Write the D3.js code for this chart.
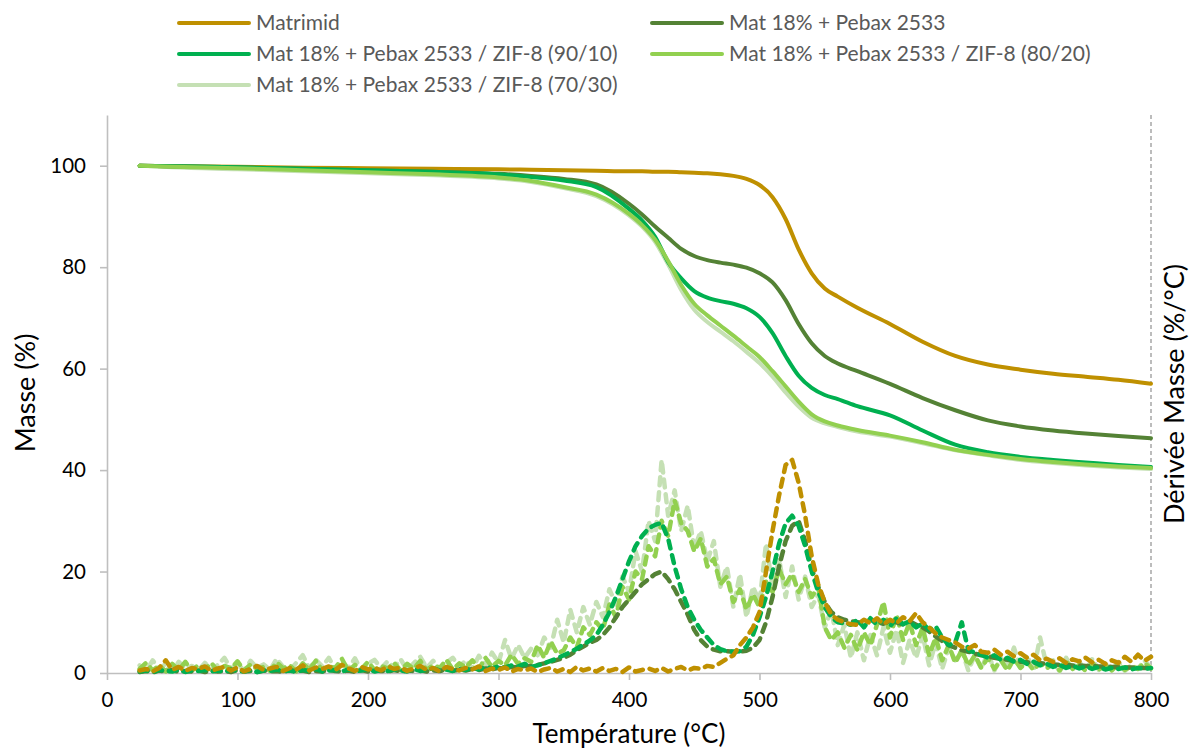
<!DOCTYPE html>
<html><head><meta charset="utf-8">
<script src="https://cdn.jsdelivr.net/npm/d3@7"></script>
<style>
html,body{margin:0;padding:0;background:#fff;}
svg{display:block;font-family:Lato,"Open Sans",sans-serif;}
</style></head>
<body><svg id="c" width="1189" height="753"></svg>
<script>
// ---------- DATA ----------
const seriesNames = [
  "Matrimid",
  "Mat 18% + Pebax 2533",
  "Mat 18% + Pebax 2533 / ZIF-8 (90/10)",
  "Mat 18% + Pebax 2533 / ZIF-8 (80/20)",
  "Mat 18% + Pebax 2533 / ZIF-8 (70/30)"
];
const seriesColors = ["#BF9000", "#548235", "#00B050", "#92D050", "#C5E0B4"];

const xTicks = [0, 100, 200, 300, 400, 500, 600, 700, 800];
const yTicks = [0, 20, 40, 60, 80, 100];

// Mass (%) vs temperature
const massTemps = [25, 50, 100, 150, 200, 250, 300, 325, 350, 375, 400, 410, 420, 430, 440, 450, 460, 470, 480, 490, 500, 510, 520, 530, 540, 550, 560, 575, 600, 625, 650, 675, 700, 725, 750, 775, 800];
const massMatrimid = [100, 99.9, 99.8, 99.6, 99.5, 99.4, 99.3, 99.2, 99.1, 99.0, 98.9, 98.9, 98.8, 98.8, 98.7, 98.6, 98.5, 98.3, 98.0, 97.4, 96.2, 93.8, 89.5, 83.5, 78.8, 75.8, 74.2, 72.0, 68.8, 65.3, 62.5, 60.8, 59.8, 59.0, 58.4, 57.8, 57.0];
const massPebax = [100, 99.9, 99.7, 99.4, 99.1, 98.8, 98.4, 98.0, 97.4, 96.3, 92.5, 90.4, 88.0, 85.8, 83.6, 82.2, 81.4, 80.9, 80.5, 79.9, 78.8, 77.0, 73.5, 68.8, 65.0, 62.5, 61.0, 59.5, 57.0, 54.2, 51.8, 49.8, 48.6, 47.8, 47.2, 46.7, 46.3];
const mass9010 = [100, 99.9, 99.7, 99.4, 99.1, 98.8, 98.3, 97.8, 97.1, 95.8, 91.5, 89.2, 86.0, 81.0, 77.8, 75.3, 74.0, 73.3, 72.8, 71.9, 70.2, 67.0, 62.5, 58.6, 56.2, 54.8, 54.0, 52.6, 50.8, 47.8, 45.0, 43.5, 42.6, 42.0, 41.5, 41.0, 40.6];
const mass8020 = [100, 99.8, 99.5, 99.1, 98.7, 98.3, 97.7, 97.0, 95.8, 94.3, 90.5, 88.3, 85.4, 81.2, 76.5, 72.8, 70.5, 68.5, 66.5, 64.4, 62.3, 59.5, 56.5, 53.5, 51.0, 49.6, 48.8, 47.9, 46.8, 45.5, 44.0, 43.0, 42.2, 41.6, 41.1, 40.7, 40.4];
const mass7030 = [100, 99.7, 99.3, 98.9, 98.5, 98.1, 97.5, 96.8, 95.6, 94.0, 90.2, 88.0, 85.0, 80.5, 75.5, 71.6, 69.2, 67.3, 65.4, 63.3, 61.1, 58.4, 55.3, 52.5, 50.3, 49.2, 48.5, 47.6, 46.6, 45.3, 43.9, 42.9, 42.0, 41.4, 40.9, 40.5, 40.2];

// Derivative (%/°C), one value every 5 °C from 25 to 800
const derivTemps = d3.range(25, 801, 5);
const derivMatrimid = [
  0.5, 0.8, 0.3, 1.0, 2.5, 0.6, 1.2, 0.4, 1.0, 0.8,
  1.3, 0.4, 0.9, 1.2, 0.5, 1.1, 0.3, 0.8, 1.4, 0.6,
  0.9, 1.2, 0.4, 1.0, 0.7, 1.5, 0.5, 1.1, 0.8, 1.3,
  0.6, 1.6, 0.9, 0.4, 1.2, 0.7, 1.0, 0.5, 1.3, 0.8,
  1.1, 0.4, 0.9, 1.4, 0.6, 1.0, 0.3, 1.2, 0.8, 0.5,
  1.0, 0.7, 1.3, 0.4, 0.9, 0.6, 1.1, 0.3, 0.8, 0.5,
  0.9, 0.2, 0.7, 1.0, 0.3, 0.8, 0.2, 1.2, 0.5, 0.9,
  0.3, 1.0, 0.4, 0.8, 0.2, 1.1, 0.3, 0.6, 0.9, 0.4,
  1.0, 0.3, 0.8, 1.2, 0.5, 1.0, 0.8, 1.4, 1.2, 2.0,
  2.8, 3.5, 5.5, 7.0, 9.0, 12.0, 20.0, 28.0, 35.0, 41.0,
  42.0, 37.5, 31.0, 23.0, 17.5, 14.0, 11.5, 10.5, 10.0, 9.6,
  9.5, 10.5, 9.8, 10.8, 9.6, 10.5, 9.8, 11.0, 10.2, 11.8,
  10.0, 9.0, 7.8, 7.0, 6.5, 6.0, 5.2, 4.8, 5.5, 4.2,
  4.0, 4.6, 3.6, 4.2, 3.3, 3.9, 3.0, 3.6, 2.5, 2.8,
  2.2, 2.9, 2.0, 2.7, 2.3, 3.0, 2.1, 2.6, 1.8, 2.5,
  2.0, 3.2, 2.2, 3.6, 2.4, 3.2
];
const derivPebax = [
  0.2, 0.4, 0.1, 0.5, 0.3, 0.6, 0.2, 0.4, 0.3, 0.5,
  0.2, 0.5, 0.3, 0.4, 0.2, 0.6, 0.3, 0.4, 0.2, 0.5,
  0.3, 0.4, 0.2, 0.6, 0.3, 0.5, 0.2, 0.4, 0.3, 0.6,
  0.4, 0.3, 0.5, 0.2, 0.6, 0.3, 0.5, 0.4, 0.3, 0.6,
  0.3, 0.5, 0.4, 0.6, 0.3, 0.5, 0.4, 0.7, 0.5, 0.6,
  0.5, 0.8, 0.6, 0.9, 0.7, 1.0, 0.9, 1.2, 1.1, 1.4,
  1.4, 1.6, 1.9, 2.2, 2.6, 3.0, 3.6, 4.5, 5.2, 6.0,
  6.5, 7.5, 9.0, 11.0, 13.0, 14.5, 16.0, 17.5, 18.5, 19.5,
  20.0, 18.5, 16.5, 14.0, 11.5, 8.5, 6.5, 5.2, 4.6, 4.3,
  4.3, 4.2, 4.2, 4.4, 5.0, 6.5, 10.0, 15.0, 21.0, 26.0,
  29.0, 30.0, 26.0, 20.5, 17.0, 14.0, 12.0, 11.0, 10.5, 10.2,
  10.0, 9.8, 10.5, 10.0, 9.7, 10.3, 10.0, 9.6, 10.2, 9.5,
  9.0, 8.2, 7.2, 6.3, 5.5, 5.0, 4.5, 4.2, 3.8, 3.5,
  3.3, 3.0, 2.8, 2.6, 2.4, 2.2, 2.1, 2.0, 1.9, 1.8,
  1.7, 1.6, 1.6, 1.5, 1.5, 1.4, 1.4, 1.3, 1.3, 1.2,
  1.2, 1.1, 1.1, 1.0, 1.0, 1.0
];
const deriv9010 = [
  0.3, 0.5, 0.2, 0.6, 0.4, 0.3, 0.7, 0.2, 0.5, 0.4,
  0.6, 0.3, 0.5, 0.2, 0.7, 0.4, 0.3, 0.6, 0.2, 0.5,
  0.4, 0.7, 0.3, 0.5, 0.2, 0.6, 0.4, 0.8, 0.3, 0.5,
  0.6, 0.3, 0.7, 0.4, 0.5, 0.8, 0.3, 0.6, 0.4, 0.7,
  0.5, 0.3, 0.8, 0.4, 0.6, 0.9, 0.5, 0.7, 0.4, 0.8,
  0.6, 1.0, 0.7, 1.2, 0.9, 1.3, 1.1, 1.5, 1.3, 1.8,
  1.2, 1.5, 1.9, 2.4, 2.9, 3.5, 4.1, 4.8, 5.6, 6.4,
  7.5, 9.5, 12.0, 15.0, 18.5, 22.0, 25.0, 27.0, 28.5, 29.2,
  29.6, 26.5, 21.0, 16.5, 13.0, 10.5, 8.5, 7.0, 5.5, 4.7,
  4.3, 4.2, 4.3, 5.2, 7.5, 11.0, 15.0, 20.0, 25.5, 29.5,
  31.0, 29.0, 25.0, 20.0, 16.0, 13.0, 11.0, 10.0, 9.8, 9.5,
  10.5, 9.0, 10.8, 9.5, 10.5, 9.2, 10.8, 9.6, 10.2, 9.0,
  9.8, 8.5, 9.2, 7.0, 5.5, 6.0, 10.0, 4.5, 4.0, 3.6,
  3.0, 3.5, 2.6, 3.0, 2.2, 2.6, 1.8, 2.2, 1.5, 1.8,
  1.2, 1.6, 1.0, 1.4, 0.9, 1.3, 0.8, 1.2, 0.7, 1.0,
  0.8, 1.1, 0.7, 1.0, 0.8, 1.0
];
const deriv8020 = [
  0.8, 2.0, 0.5, 1.5, 0.3, 1.8, 0.6, 2.2, 0.4, 1.6,
  0.7, 2.0, 0.3, 1.4, 0.9, 2.3, 0.5, 1.7, 0.8, 1.2,
  0.4, 2.1, 0.9, 1.5, 0.3, 1.9, 0.7, 2.4, 0.5, 1.3,
  1.0, 2.8, 0.4, 1.6, 0.8, 2.2, 0.6, 1.4, 0.9, 2.0,
  0.5, 1.8, 0.8, 2.4, 0.6, 1.5, 1.0, 2.6, 0.7, 1.9,
  1.1, 2.5, 0.8, 3.0, 1.2, 2.4, 1.5, 3.6, 1.8, 2.9,
  2.2, 5.5, 3.0, 6.2, 3.8, 4.5, 7.0, 5.0, 9.0, 7.5,
  10.0, 8.5, 13.5, 11.0, 17.0, 14.5, 20.0, 18.5, 25.0, 23.0,
  30.0, 27.0, 34.0, 29.5, 28.0, 24.0, 26.5, 21.0, 22.5, 17.5,
  19.0, 14.0, 16.5, 12.5, 15.5, 13.0, 18.0, 16.0, 20.5, 17.5,
  19.5, 16.0, 18.5, 15.0, 17.0, 9.0, 6.5, 8.0, 5.0, 7.5,
  4.5, 8.0, 5.5, 9.5, 14.0, 7.0, 11.5, 6.5, 10.0, 5.5,
  9.0, 3.5, 7.0, 2.5, 5.5, 2.0, 4.5, 1.5, 3.5, 1.0,
  3.0, 0.8, 2.5, 0.5, 2.8, 1.0, 2.2, 0.6, 2.0, 0.9,
  1.8, 0.5, 2.4, 0.8, 1.6, 0.4, 2.0, 0.7, 1.5, 0.5,
  1.8, 0.6, 1.4, 0.8, 2.0, 0.9
];
const deriv7030 = [
  1.5, 0.4, 2.5, 0.8, 1.8, 0.3, 2.2, 0.9, 1.4, 0.5,
  2.0, 0.6, 1.6, 3.0, 0.8, 1.9, 0.4, 2.4, 1.0, 1.7,
  0.6, 2.8, 1.2, 0.5, 2.0, 3.5, 0.9, 2.6, 1.3, 3.0,
  0.7, 2.2, 1.0, 2.9, 0.5, 1.8, 2.6, 0.9, 2.3, 1.1,
  2.7, 0.6, 1.9, 3.2, 1.0, 2.4, 0.7, 2.0, 3.0, 1.2,
  2.5, 0.9, 3.4, 1.5, 4.0, 2.0, 6.5, 2.8, 5.5, 3.0,
  4.8, 3.5, 7.0, 5.0, 10.5, 6.0, 12.5, 8.0, 13.0, 9.5,
  14.0, 11.0, 16.5, 13.5, 19.0, 16.0, 24.0, 20.0, 30.0, 26.0,
  42.0, 31.0, 36.0, 28.0, 33.0, 24.5, 28.0, 22.0, 26.0, 17.0,
  21.0, 13.0, 19.5, 11.0, 17.0, 14.0, 25.5, 17.0, 22.5, 15.0,
  21.0, 14.5, 19.0, 13.0, 15.5, 9.0, 12.5, 5.5, 9.5, 3.0,
  8.0, 2.5, 7.5, 3.5, 9.0, 4.0, 8.5, 2.0, 6.5, 3.0,
  7.5, 1.5, 6.0, 0.8, 5.0, 2.5, 4.5, 0.5, 3.5, 0.8,
  4.0, 0.5, 3.0, 1.2, 5.0, 0.8, 3.5, 0.4, 7.0, 1.5,
  2.5, 0.3, 3.0, 0.8, 2.2, 0.4, 2.8, 0.6, 1.8, 0.5,
  2.2, 0.4, 1.6, 0.8, 2.5, 1.0
];

const massSeries = [massMatrimid, massPebax, mass9010, mass8020, mass7030];
const derivSeries = [derivMatrimid, derivPebax, deriv9010, deriv8020, deriv7030];

// ---------- CHART ----------
const W = 1189, H = 753;
const m = {left: 107, right: 38, top: 115, bottom: 80};
const svg = d3.select("#c");
const x = d3.scaleLinear().domain([0, 800]).range([m.left, W - m.right]);
const y = d3.scaleLinear().domain([0, 110]).range([H - m.bottom, m.top]);
const y2 = d3.scaleLinear().domain([0, 110]).range([H - m.bottom, m.top]);

const axisColor = "#BFBFBF";

// Axes
const gx = svg.append("g").attr("transform", `translate(0,${y(0)})`)
  .call(d3.axisBottom(x).tickValues(xTicks).tickSize(7).tickSizeOuter(0).tickPadding(12));
const gy = svg.append("g").attr("transform", `translate(${x(0)},0)`)
  .call(d3.axisLeft(y).tickValues(yTicks).tickSize(7).tickSizeOuter(0).tickPadding(14));
[gx, gy].forEach(g => {
  g.select(".domain").attr("stroke", axisColor).attr("stroke-width", 1.6);
  g.selectAll(".tick line").attr("stroke", axisColor).attr("stroke-width", 1.6);
  g.selectAll(".tick text").attr("fill", "#000").style("font-size", "20.5px").style("font-family", "Lato, sans-serif");
});
gx.selectAll(".tick text").attr("dy", "0.75em");

// Right (secondary) axis: dashed line
svg.append("line")
  .attr("x1", x(800)).attr("x2", x(800))
  .attr("y1", y2(110)).attr("y2", y2(0))
  .attr("stroke", "#A6A6A6").attr("stroke-width", 1.5).attr("stroke-dasharray", "4,3");

// Mass curves
const massLine = d3.line().curve(d3.curveMonotoneX)
  .x((d, i) => x(massTemps[i])).y(d => y(d));
const massOrder = [4, 0, 1, 2, 3];
massOrder.forEach(k => {
  svg.append("path").datum(massSeries[k])
    .attr("d", massLine).attr("fill", "none")
    .attr("stroke", seriesColors[k]).attr("stroke-width", 4)
    .attr("stroke-linecap", "round").attr("stroke-linejoin", "round");
});

// Derivative curves (dashed)
const dLine = d3.line().x((d, i) => x(derivTemps[i])).y(d => y2(d));
const derivOrder = [4, 3, 1, 2, 0];
derivOrder.forEach(k => {
  svg.append("path").datum(derivSeries[k])
    .attr("d", dLine).attr("fill", "none")
    .attr("stroke", seriesColors[k]).attr("stroke-width", 4.5)
    .attr("stroke-dasharray", "8,7")
    .attr("stroke-linecap", "round").attr("stroke-linejoin", "round");
});

// Axis titles
svg.append("text").text("Température (°C)")
  .attr("x", 629).attr("y", 743).attr("text-anchor", "middle")
  .style("font-size", "26px").attr("fill", "#000");
svg.append("text").text("Masse (%)")
  .attr("transform", "translate(35,393) rotate(-90)").attr("text-anchor", "middle")
  .style("font-size", "27px").attr("fill", "#000");
svg.append("text").text("Dérivée Masse (%/°C)")
  .attr("transform", "translate(1184,394) rotate(-90)").attr("text-anchor", "middle")
  .style("font-size", "27px").attr("fill", "#000");

// Legend
const legendPos = [
  {lx: 179, ty: 23}, {lx: 652, ty: 23},
  {lx: 179, ty: 54}, {lx: 652, ty: 54},
  {lx: 179, ty: 85}
];
const lg = svg.append("g");
seriesNames.forEach((name, k) => {
  const p = legendPos[k];
  lg.append("line").attr("x1", p.lx).attr("x2", p.lx + 70)
    .attr("y1", p.ty).attr("y2", p.ty)
    .attr("stroke", seriesColors[k]).attr("stroke-width", 4).attr("stroke-linecap", "round");
  lg.append("text").text(name)
    .attr("x", p.lx + 77).attr("y", p.ty).attr("dy", "0.35em")
    .style("font-size", "21px").attr("fill", "#595959");
});
</script></body></html>
